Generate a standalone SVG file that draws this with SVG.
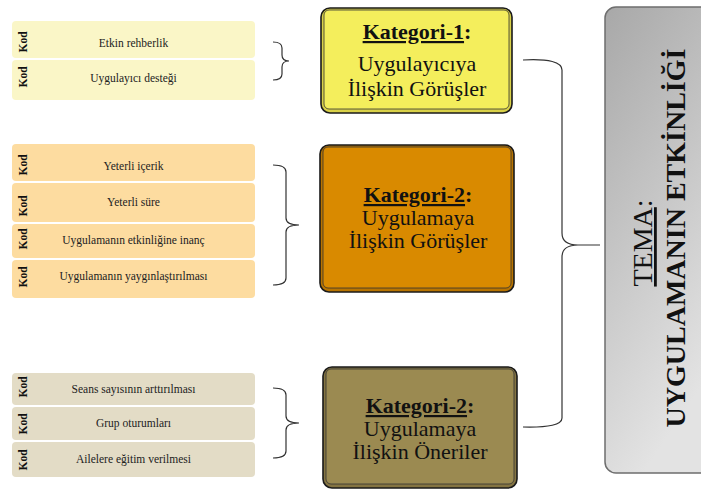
<svg xmlns="http://www.w3.org/2000/svg" width="701" height="489" viewBox="0 0 701 489">
<defs>
<linearGradient id="gray" x1="0" y1="0" x2="0.35" y2="1">
<stop offset="0" stop-color="#a8a8a8"/>
<stop offset="1" stop-color="#e3e3e3"/>
</linearGradient>
<style>
.code{stroke:none}
.c1{fill:#faf6c7}
.c2{fill:#fddca0}
.c3{fill:#e3dcc6}
.kod{font-family:"Liberation Serif",serif;font-weight:bold;font-size:11.5px;fill:#111;text-anchor:middle}
.lbl{font-family:"Liberation Serif",serif;font-size:11.5px;fill:#222;text-anchor:middle}
.cat{font-family:"Liberation Serif",serif;font-size:22px;fill:#111;text-anchor:middle}
.catb{font-weight:bold}
.u{text-decoration:underline}
.outer{stroke:#1a1a1a;stroke-width:1.6}
.inner{stroke:#333;stroke-width:0.8}
.br{fill:none;stroke:#333;stroke-width:1.2}
.theme{font-family:"Liberation Serif",serif;font-size:28px;fill:#111;text-anchor:middle}
.y1{fill:#f4ee5c}.y0{fill:#d9d148}
.o1{fill:#d98a00}.o0{fill:#b87400}
.g1{fill:#9b8a51}.g0{fill:#847442}
</style>
</defs>

<g id="codes-1">
<g id="code-etkin-rehberlik">
<rect class="code c1" x="12" y="21" width="243" height="37" rx="4"/>
<text class="kod" transform="translate(27,42) rotate(-90)">Kod</text>
<text class="lbl" x="133.5" y="47">Etkin rehberlik</text>
</g>
<g id="code-uygulayici-destegi">
<rect class="code c1" x="12" y="60" width="243" height="40" rx="4"/>
<text class="kod" transform="translate(27,77) rotate(-90)">Kod</text>
<text class="lbl" x="133.5" y="82">Uygulayıcı desteği</text>
</g>
</g>

<g id="codes-2">
<g id="code-yeterli-icerik">
<rect class="code c2" x="12" y="144" width="243" height="37" rx="4"/>
<text class="kod" transform="translate(27,165) rotate(-90)">Kod</text>
<text class="lbl" x="133.5" y="170">Yeterli içerik</text>
</g>
<g id="code-yeterli-sure">
<rect class="code c2" x="12" y="183" width="243" height="39" rx="4"/>
<text class="kod" transform="translate(27,206) rotate(-90)">Kod</text>
<text class="lbl" x="133.5" y="206">Yeterli süre</text>
</g>
<g id="code-inanc">
<rect class="code c2" x="12" y="224" width="243" height="34" rx="4"/>
<text class="kod" transform="translate(27,239) rotate(-90)">Kod</text>
<text class="lbl" x="133.5" y="244">Uygulamanın etkinliğine inanç</text>
</g>
<g id="code-yayginlastirma">
<rect class="code c2" x="12" y="260" width="243" height="38" rx="4"/>
<text class="kod" transform="translate(27,277) rotate(-90)">Kod</text>
<text class="lbl" x="133.5" y="280">Uygulamanın yaygınlaştırılması</text>
</g>
</g>

<g id="codes-3">
<g id="code-seans">
<rect class="code c3" x="12" y="373" width="243" height="32" rx="4"/>
<text class="kod" transform="translate(27,387) rotate(-90)">Kod</text>
<text class="lbl" x="133.5" y="393">Seans sayısının arttırılması</text>
</g>
<g id="code-grup">
<rect class="code c3" x="12" y="407" width="243" height="33" rx="4"/>
<text class="kod" transform="translate(27,424) rotate(-90)">Kod</text>
<text class="lbl" x="133.5" y="427">Grup oturumları</text>
</g>
<g id="code-aile">
<rect class="code c3" x="12" y="442" width="243" height="35" rx="4"/>
<text class="kod" transform="translate(27,460) rotate(-90)">Kod</text>
<text class="lbl" x="133.5" y="463">Ailelere eğitim verilmesi</text>
</g>
</g>

<g id="kategori-1">
<rect class="outer y0" x="321" y="8" width="191" height="105" rx="9"/>
<rect class="inner y1" x="324" y="10" width="185" height="99" rx="5"/>
<text class="cat" x="417" y="39"><tspan class="catb u">Kategori-1</tspan><tspan class="catb">:</tspan></text>
<text class="cat" x="417" y="71">Uygulayıcıya</text>
<text class="cat" x="417" y="96">İlişkin Görüşler</text>
</g>

<g id="kategori-2">
<rect class="outer o0" x="320" y="145" width="194" height="147" rx="9"/>
<rect class="inner o1" x="323" y="147" width="188" height="141" rx="5"/>
<text class="cat" x="418" y="202"><tspan class="catb u">Kategori-2</tspan><tspan class="catb">:</tspan></text>
<text class="cat" x="418" y="225">Uygulamaya</text>
<text class="cat" x="418" y="248">İlişkin Görüşler</text>
</g>

<g id="kategori-3">
<rect class="outer g0" x="323" y="367" width="194" height="121" rx="9"/>
<rect class="inner g1" x="326" y="369" width="188" height="115" rx="5"/>
<text class="cat" x="420" y="413"><tspan class="catb u">Kategori-2</tspan><tspan class="catb">:</tspan></text>
<text class="cat" x="420" y="436">Uygulamaya</text>
<text class="cat" x="420" y="459">İlişkin Öneriler</text>
</g>

<g id="tema">
<rect x="605" y="7" width="110" height="466" rx="11" fill="url(#gray)" stroke="#6e6e6e" stroke-width="1.5"/>
<text class="theme" transform="translate(652,243) rotate(-90)"><tspan class="u">TEMA</tspan>:</text>
<text class="theme" transform="translate(685,238) rotate(-90)" font-weight="bold">UYGULAMANIN ETKİNLİĞİ</text>
</g>

<g id="connectors">
<path class="br" d="M273,42 Q282,42 282,48 L282,55 Q282,61 289,61 Q282,61 282,67 L282,74 Q282,80 273,80"/>
<path class="br" d="M273,165 Q286,165 286,172 L286,218 Q286,225 299,225 Q286,225 286,232 L286,278 Q286,285 273,285"/>
<path class="br" d="M273,388 Q286,388 286,395 L286,416 Q286,423 299,423 Q286,423 286,430 L286,451 Q286,458 273,458"/>
<path class="br" d="M523,60 Q562,58 562,70 L562,233 Q562,245 578,245 L600,245 M578,245 Q562,245 562,257 L562,418 Q562,428 523,427"/>
</g>
</svg>
